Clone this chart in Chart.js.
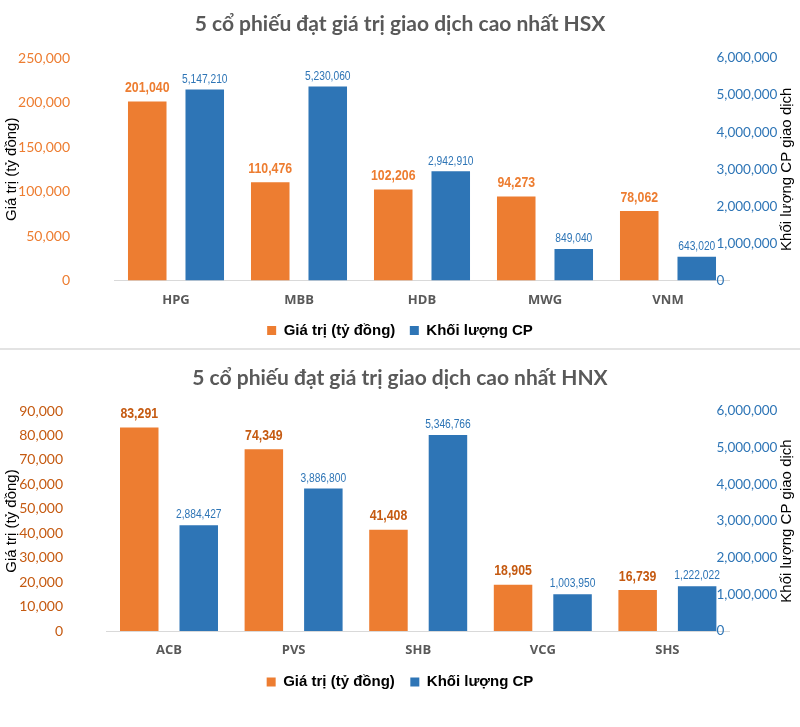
<!DOCTYPE html>
<html>
<head>
<meta charset="utf-8">
<script src="https://cdn.jsdelivr.net/npm/chart.js@4.4.1/dist/chart.umd.min.js"></script>
<style>
  body { margin: 0; background: #fff; }
  #wrap { position: relative; width: 800px; height: 727px; }
  #topBox { position: absolute; left: 0; top: 0; width: 800px; height: 348px; }
  #sep { position: absolute; left: 0; top: 348px; width: 800px; height: 2px; background: #e3e3e3; }
  #botBox { position: absolute; left: 0; top: 351px; width: 800px; height: 376px; }
</style>
</head>
<body>
<div id="wrap">
  <div id="topBox"><canvas id="hsxChart" width="800" height="348"></canvas></div>
  <div id="sep"></div>
  <div id="botBox"><canvas id="hnxChart" width="800" height="376"></canvas></div>
</div>

<script>
// ------------------------------------------------------------
// DATA
// ------------------------------------------------------------
const hsxCodes = ["HPG", "MBB", "HDB", "MWG", "VNM"];
const hsxValue = [201040, 110476, 102206, 94273, 78062];
const hsxVolume = [5147210, 5230060, 2942910, 849040, 643020];

const hnxCodes = ["ACB", "PVS", "SHB", "VCG", "SHS"];
const hnxValue = [83291, 74349, 41408, 18905, 16739];
const hnxVolume = [2884427, 3886800, 5346766, 1003950, 1222022];

// axis ranges [min, max, step]
const hsxValueAxis = [0, 250000, 50000];
const hnxValueAxis = [0, 90000, 10000];
const volumeAxis = [0, 6000000, 1000000];

const seriesNames = ["Giá trị (tỷ đồng)", "Khối lượng CP"];
const leftTitle = "Giá trị (tỷ đồng)";
const rightTitle = "Khối lượng CP giao dịch";

const ORANGE = "#ED7D31";
const BLUE = "#2E75B6";
const TICK_FONT = "Lato";

const fmt = v => Number(v).toLocaleString("en-US");

// ------------------------------------------------------------
// PLUGINS
// ------------------------------------------------------------
// numbers above the bars (squeezed sideways, like a narrow font)
const valueLabels = {
  id: "valueLabels",
  afterDatasetsDraw(chart, args, opts) {
    const ctx = chart.ctx;
    chart.data.datasets.forEach((ds, i) => {
      const meta = chart.getDatasetMeta(i);
      const st = opts.styles[i];
      meta.data.forEach((bar, j) => {
        ctx.save();
        ctx.translate(bar.x, bar.y - st.gap);
        ctx.scale(0.82, 1);
        ctx.font = st.font;
        ctx.fillStyle = st.color;
        ctx.textAlign = "center";
        ctx.textBaseline = "bottom";
        ctx.fillText(fmt(ds.data[j]), 0, 0);
        ctx.restore();
      });
    });
  }
};

// right axis: tick labels sit a bit inside the plot, title reads bottom-up
const rightAxisText = {
  id: "rightAxisText",
  afterDraw(chart, args, opts) {
    const ctx = chart.ctx;
    const a = chart.chartArea;
    const scale = chart.scales.y1;
    ctx.save();
    ctx.font = "13.5px " + TICK_FONT + ", sans-serif";
    ctx.fillStyle = BLUE;
    ctx.textAlign = "left";
    ctx.textBaseline = "middle";
    scale.ticks.forEach(t => {
      ctx.fillText(fmt(t.value), opts.tickX, scale.getPixelForValue(t.value));
    });

    ctx.translate(opts.titleX, (a.top + a.bottom) / 2);
    ctx.rotate(-Math.PI / 2);
    ctx.font = "15px 'Liberation Sans', Arial, sans-serif";
    ctx.fillStyle = "#000";
    ctx.textAlign = "center";
    ctx.fillText(rightTitle, 0, 0);
    ctx.restore();
  }
};

// ------------------------------------------------------------
// BUILD ONE CHART
// ------------------------------------------------------------
function makeChart(id, cfg) {
  const ctx = document.getElementById(id).getContext("2d");
  return new Chart(ctx, {
    type: "bar",
    data: {
      labels: cfg.codes,
      datasets: [
        { label: seriesNames[0], data: cfg.value, backgroundColor: ORANGE, yAxisID: "y",
          categoryPercentage: cfg.catPct, barPercentage: cfg.barPct },
        { label: seriesNames[1], data: cfg.volume, backgroundColor: BLUE, yAxisID: "y1",
          categoryPercentage: cfg.catPct, barPercentage: cfg.barPct }
      ]
    },
    plugins: [valueLabels, rightAxisText],
    options: {
      responsive: false,
      animation: false,
      layout: { padding: { top: 0, left: 0, right: 0, bottom: cfg.padBottom } },
      plugins: {
        title: {
          display: true,
          text: cfg.title,
          color: "#595959",
          font: { family: "Lato", size: 21, weight: "bold" },
          padding: { top: cfg.titleTop, bottom: cfg.titleBottom }
        },
        legend: {
          position: "bottom",
          maxHeight: 40,
          labels: {
            boxWidth: 9,
            boxHeight: 9,
            padding: cfg.legendPad,
            color: "#000",
            font: { family: "Liberation Sans", size: 15, weight: "bold" }
          }
        },
        tooltip: { enabled: false },
        valueLabels: {
          styles: [
            { font: "bold 15px 'Liberation Sans', Arial, sans-serif", color: cfg.valueLabelColor, gap: 6 },
            { font: "12.5px 'Liberation Sans', Arial, sans-serif", color: BLUE, gap: 4 }
          ]
        },
        rightAxisText: { tickX: 716.5, titleX: 787 }
      },
      scales: {
        x: {
          grid: { display: false, drawTicks: false },
          border: { color: "#d9d9d9" },
          ticks: {
            color: "#595959",
            padding: cfg.xPad,
            font: { family: "Open Sans", size: 13, weight: "bold" }
          },
          afterFit: s => { s.height = 28; }
        },
        y: {
          position: "left",
          min: cfg.valueAxis[0],
          max: cfg.valueAxis[1],
          grid: { display: false, drawTicks: false },
          border: { display: false },
          ticks: {
            stepSize: cfg.valueAxis[2],
            color: cfg.leftTickColor,
            padding: cfg.leftTickPad,
            font: { family: TICK_FONT, size: 14 },
            callback: v => fmt(v)
          },
          title: {
            display: true,
            text: leftTitle,
            color: "#000",
            padding: { top: 3, bottom: 0 },
            font: { family: "Liberation Sans", size: 15 }
          },
          afterFit: s => { s.width = cfg.leftWidth; }
        },
        y1: {
          position: "right",
          min: volumeAxis[0],
          max: volumeAxis[1],
          grid: { display: false, drawTicks: false },
          border: { display: false },
          ticks: { display: false, stepSize: volumeAxis[2] },
          afterFit: s => { s.width = cfg.rightWidth; }
        }
      }
    }
  });
}

// ------------------------------------------------------------
// HSX (top) and HNX (bottom)
// ------------------------------------------------------------
makeChart("hsxChart", {
  title: "5 cổ phiếu đạt giá trị giao dịch cao nhất HSX",
  codes: hsxCodes, value: hsxValue, volume: hsxVolume,
  valueAxis: hsxValueAxis,
  leftWidth: 114.5, rightWidth: 70.5, leftTickPad: 44.5,
  catPct: 0.935, barPct: 0.67,
  titleTop: 12, titleBottom: 20.8,
  xPad: 12.2, legendPad: 14.5, padBottom: 0,
  leftTickColor: ORANGE, valueLabelColor: ORANGE
});

makeChart("hnxChart", {
  title: "5 cổ phiếu đạt giá trị giao dịch cao nhất HNX",
  codes: hnxCodes, value: hnxValue, volume: hnxVolume,
  valueAxis: hnxValueAxis,
  leftWidth: 106.7, rightWidth: 70.3, leftTickPad: 43.7,
  catPct: 0.955, barPct: 0.647,
  titleTop: 14.4, titleBottom: 20.4,
  xPad: 11.2, legendPad: 15.5, padBottom: 28,
  leftTickColor: "#C55A11", valueLabelColor: "#C55A11"
});
</script>
</body>
</html>
